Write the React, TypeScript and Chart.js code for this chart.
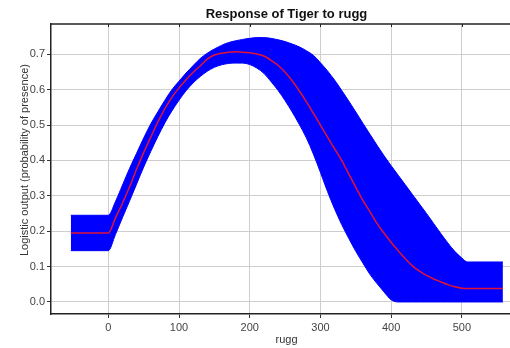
import React, { useEffect, useRef } from "react";
import { Chart, registerables } from "chart.js";

Chart.register(...registerables);

// rugg values (x)
const rugg = [
  -53, 0, 10, 20, 30, 40, 50, 60, 70, 80, 90, 100, 110, 120, 130, 140, 150, 160, 170, 180, 190,
  200, 210, 220, 230, 240, 250, 260, 270, 280, 290, 300, 310, 320, 330, 340, 350, 360, 370, 380,
  390, 400, 410, 420, 430, 440, 450, 460, 470, 480, 490, 500, 508, 558,
];

// mean logistic response (red line)
const meanResponse = [
  0.195, 0.195, 0.237, 0.279, 0.325, 0.375, 0.422, 0.465, 0.508, 0.546, 0.578, 0.605, 0.628, 0.649,
  0.667, 0.686, 0.698, 0.703, 0.706, 0.707, 0.706, 0.704, 0.701, 0.695, 0.683, 0.669, 0.649, 0.625,
  0.597, 0.566, 0.533, 0.5, 0.466, 0.433, 0.4, 0.362, 0.324, 0.287, 0.255, 0.222, 0.194, 0.168,
  0.145, 0.122, 0.102, 0.087, 0.075, 0.065, 0.057, 0.049, 0.043, 0.039, 0.038, 0.038,
];

// mean + sd (upper edge of blue band)
const upperBand = [
  0.245, 0.245, 0.283, 0.33, 0.377, 0.42, 0.463, 0.503, 0.537, 0.57, 0.6, 0.624, 0.647, 0.668,
  0.688, 0.703, 0.715, 0.725, 0.733, 0.738, 0.742, 0.745, 0.747, 0.747, 0.745, 0.741, 0.736, 0.729,
  0.721, 0.71, 0.697, 0.676, 0.653, 0.627, 0.598, 0.568, 0.537, 0.505, 0.474, 0.443, 0.413, 0.385,
  0.358, 0.331, 0.304, 0.277, 0.25, 0.222, 0.194, 0.167, 0.143, 0.124, 0.113, 0.113,
];

// mean - sd (lower edge of blue band)
const lowerBand = [
  0.145, 0.145, 0.19, 0.238, 0.285, 0.333, 0.381, 0.425, 0.467, 0.506, 0.54, 0.57, 0.597, 0.619,
  0.637, 0.652, 0.663, 0.67, 0.674, 0.675, 0.675, 0.671, 0.661, 0.646, 0.623, 0.598, 0.569, 0.537,
  0.502, 0.464, 0.418, 0.366, 0.312, 0.263, 0.219, 0.18, 0.143, 0.11, 0.078, 0.052, 0.028, 0.006,
  0, 0, 0, 0, 0, 0, 0, 0, 0, 0, 0, 0,
];

const xTicks = [0, 100, 200, 300, 400, 500];
const yTicks = [0, 0.1, 0.2, 0.3, 0.4, 0.5, 0.6, 0.7];

const chartTitle = "Response of Tiger to rugg";
const xTitle = "rugg";
const yTitle = "Logistic output (probability of presence)";

const FONT = '"Liberation Sans", Arial, sans-serif';

const decorations = {
  id: "decorations",
  afterDraw(chart: any) {
    const { ctx, chartArea } = chart;
    const { left, right, top } = chartArea;
    ctx.save();
    // top border
    ctx.strokeStyle = "#222";
    ctx.lineWidth = 1.5;
    ctx.beginPath();
    ctx.moveTo(left, top);
    ctx.lineTo(right, top);
    ctx.stroke();
    // inner ticks at top
    ctx.lineWidth = 1;
    ctx.beginPath();
    const xs = chart.scales.x;
    xTicks.forEach((v) => {
      const px = Math.round(xs.getPixelForValue(v)) + 0.5;
      ctx.moveTo(px, top);
      ctx.lineTo(px, top + 3);
    });
    ctx.stroke();
    // chart title
    ctx.fillStyle = "#111";
    ctx.font = `bold 13px ${FONT}`;
    ctx.textAlign = "center";
    ctx.textBaseline = "middle";
    ctx.fillText(chartTitle, (left + right) / 2, 14);
    // y axis title
    ctx.fillStyle = "#333";
    ctx.font = `11px ${FONT}`;
    ctx.translate(25, 160);
    ctx.rotate(-Math.PI / 2);
    ctx.fillText(yTitle, 0, 0);
    ctx.restore();
  },
};

export default function App() {
  const canvasRef = useRef<HTMLCanvasElement | null>(null);

  useEffect(() => {
    const canvas = canvasRef.current;
    if (!canvas) return;
    const toPts = (ys: number[]) => rugg.map((x, i) => ({ x, y: ys[i] }));
    const chart = new Chart(canvas, {
      type: "line",
      data: {
        datasets: [
          {
            label: "mean",
            data: toPts(meanResponse),
            borderColor: "rgb(225,20,50)",
            borderWidth: 1.5,
            pointRadius: 0,
            fill: false,
            cubicInterpolationMode: "monotone",
            order: 0,
          },
          {
            label: "mean+sd",
            data: toPts(upperBand),
            borderColor: "#0000ff",
            backgroundColor: "#0000ff",
            borderWidth: 1,
            pointRadius: 0,
            fill: "+1",
            cubicInterpolationMode: "monotone",
            order: 1,
          },
          {
            label: "mean-sd",
            data: toPts(lowerBand),
            borderColor: "#0000ff",
            backgroundColor: "#0000ff",
            borderWidth: 1,
            pointRadius: 0,
            fill: false,
            cubicInterpolationMode: "monotone",
            order: 2,
          },
        ],
      },
      options: {
        animation: false,
        responsive: false,
        devicePixelRatio: 1,
        layout: { padding: { top: 24, left: 0, right: 0, bottom: 0 } },
        plugins: {
          legend: { display: false },
          title: { display: false },
          tooltip: { enabled: false },
        },
        scales: {
          x: {
            type: "linear",
            min: -81,
            max: 585,
            afterBuildTicks: (s: any) => {
              s.ticks = xTicks.map((v) => ({ value: v }));
            },
            afterFit: (s: any) => {
              s.height = 34;
            },
            grid: { color: "#cecece", lineWidth: 1, tickLength: 4, tickColor: "#333" },
            border: { color: "#222", width: 1.5 },
            ticks: {
              font: { family: FONT, size: 11 },
              color: "#444",
              padding: 3,
              maxRotation: 0,
              autoSkip: false,
            },
            title: {
              display: true,
              text: xTitle,
              font: { family: FONT, size: 11 },
              color: "#333",
              padding: { top: 0, bottom: 1 },
            },
          },
          y: {
            type: "linear",
            min: -0.034,
            max: 0.7855,
            afterBuildTicks: (s: any) => {
              s.ticks = yTicks.map((v) => ({ value: v }));
            },
            afterFit: (s: any) => {
              s.width = 51;
            },
            grid: { color: "#cecece", lineWidth: 1, tickLength: 4, tickColor: "#333" },
            border: { color: "#222", width: 1.5 },
            ticks: {
              font: { family: FONT, size: 11 },
              color: "#444",
              padding: 2,
              autoSkip: false,
              callback: (v: any) => Number(v).toFixed(1),
            },
          },
        },
      },
      plugins: [decorations],
    });
    return () => chart.destroy();
  }, []);

  return (
    <div
      style={{
        position: "fixed",
        left: 0,
        top: 0,
        width: 510,
        height: 348,
        overflow: "hidden",
        background: "#fff",
      }}
    >
      <canvas ref={canvasRef} width={522} height={348} style={{ display: "block" }} />
    </div>
  );
}
